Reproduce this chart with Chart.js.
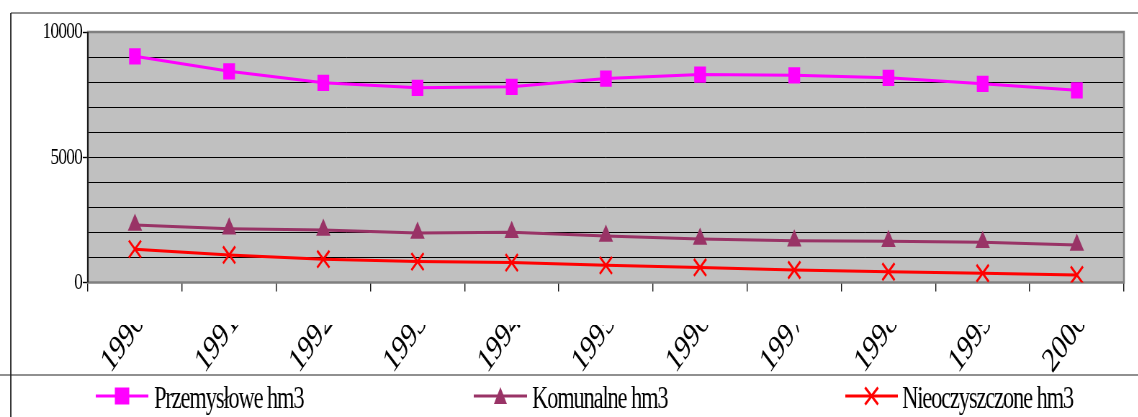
<!DOCTYPE html>
<html>
<head>
<meta charset="utf-8">
<script src="https://cdn.jsdelivr.net/npm/chart.js@4"></script>
<style>
  html, body { margin: 0; padding: 0; background: #fff; overflow: hidden; }
  /* the chart is laid out wide and then squeezed horizontally */
  #wrap { width: 1581px; height: 417px; transform: scaleX(0.72); transform-origin: 0 0; }
  canvas { display: block; }
</style>
</head>
<body>
<div id="wrap"><canvas id="chart" width="1581" height="417"></canvas></div>
<script>
// Years on the category axis
const years = ['1990', '1991', '1992', '1993', '1994', '1995', '1996', '1997', '1998', '1999', '2000'];

// Wastewater volumes, hm3
const przemyslowe = [9030, 8430, 7970, 7770, 7810, 8140, 8300, 8270, 8170, 7930, 7670];
const komunalne = [2300, 2150, 2100, 1980, 2010, 1860, 1740, 1670, 1650, 1610, 1500];
const nieoczyszczone = [1330, 1100, 930, 835, 795, 685, 600, 500, 430, 370, 300];

const seriesNames = ['Przemysłowe hm3', 'Komunalne hm3', 'Nieoczyszczone hm3'];

// Value axis: a gridline every 1000, labels only on these
const yGridValues = [0, 1000, 2000, 3000, 4000, 5000, 6000, 7000, 8000, 9000, 10000];
const labelledTicks = [0, 5000, 10000];

const SERIF = '"Liberation Serif", "Times New Roman", serif';
const LABEL_CLIP_TOP = 325;     // rotated year labels are cut off above this line
const LEGEND_TOP = 375;         // separator between plot and legend

// Legend slots: line start, line end, text start
const legendSlots = [
  { x0: 133, x1: 206, tx: 214 },
  { x0: 658, x1: 732, tx: 739 },
  { x0: 1174, x1: 1247, tx: 1253 }
];

function drawLegendMarker(ctx, style, cx, cy, color) {
  ctx.save();
  ctx.fillStyle = color;
  ctx.strokeStyle = color;
  if (style === 'rect') {
    ctx.fillRect(cx - 10, cy - 8.5, 20, 17);
  } else if (style === 'triangle') {
    ctx.beginPath();
    ctx.moveTo(cx, cy - 9);
    ctx.lineTo(cx + 9, cy + 8);
    ctx.lineTo(cx - 9, cy + 8);
    ctx.closePath();
    ctx.fill();
  } else {
    ctx.lineWidth = 3;
    ctx.beginPath();
    ctx.moveTo(cx - 9, cy - 8.5); ctx.lineTo(cx + 9, cy + 8.5);
    ctx.moveTo(cx + 9, cy - 8.5); ctx.lineTo(cx - 9, cy + 8.5);
    ctx.stroke();
  }
  ctx.restore();
}

const frameAndLegend = {
  id: 'frameAndLegend',
  beforeDraw(chart) {
    const { ctx, chartArea: a } = chart;
    ctx.save();
    ctx.fillStyle = '#c0c0c0';
    ctx.fillRect(a.left, a.top, a.right - a.left, a.bottom - a.top);
    ctx.restore();
  },
  beforeDatasetsDraw(chart) {
    const { ctx, chartArea: a } = chart;
    ctx.save();
    ctx.strokeStyle = '#808080';
    ctx.lineWidth = 2.5;
    ctx.strokeRect(a.left, a.top, a.right - a.left, a.bottom - a.top);
    ctx.strokeStyle = '#000';
    ctx.lineWidth = 1.6;
    ctx.beginPath();
    ctx.moveTo(a.left, a.top); ctx.lineTo(a.left, a.bottom);
    ctx.stroke();
    ctx.restore();
  },
  afterDraw(chart) {
    const { ctx, width, height } = chart;
    ctx.save();
    // outer frame and separator
    ctx.strokeStyle = '#222';
    ctx.lineWidth = 1.2;
    ctx.beginPath();
    ctx.moveTo(15, 13); ctx.lineTo(width, 13);
    ctx.moveTo(0, LEGEND_TOP); ctx.lineTo(width, LEGEND_TOP);
    ctx.stroke();
    ctx.lineWidth = 1.8;
    ctx.beginPath();
    ctx.moveTo(15, 13); ctx.lineTo(15, height);
    ctx.stroke();

    // legend
    const cy = 396;
    chart.data.datasets.forEach((ds, i) => {
      const s = legendSlots[i];
      ctx.strokeStyle = ds.borderColor;
      ctx.lineWidth = 3;
      ctx.beginPath();
      ctx.moveTo(s.x0, cy); ctx.lineTo(s.x1, cy);
      ctx.stroke();
      drawLegendMarker(ctx, ds.pointStyle, (s.x0 + s.x1) / 2, cy, ds.borderColor);
      ctx.fillStyle = '#000';
      ctx.font = '31px ' + SERIF;
      if ('letterSpacing' in ctx) ctx.letterSpacing = '-1.5px';
      ctx.textBaseline = 'alphabetic';
      ctx.textAlign = 'left';
      ctx.fillText(ds.label, s.tx, 408);
    });
    ctx.restore();
  }
};

// Tight letter spacing on tick labels; year labels clipped along a horizontal line
const tickLabelStyle = {
  id: 'tickLabelStyle',
  afterLayout(chart) {
    [['x', '0px', true], ['y', '-1px', false]].forEach(([id, spacing, clip]) => {
      const s = chart.scales[id];
      if (!s || s._styled) return;
      const orig = s.drawLabels;
      s.drawLabels = function (area) {
        const ctx = chart.ctx;
        ctx.save();
        if ('letterSpacing' in ctx) ctx.letterSpacing = spacing;
        if (clip) {
          ctx.beginPath();
          ctx.rect(0, LABEL_CLIP_TOP, chart.width, chart.height - LABEL_CLIP_TOP);
          ctx.clip();
        }
        orig.call(this, area);
        ctx.restore();
      };
      s._styled = true;
    });
  }
};

new Chart(document.getElementById('chart'), {
  type: 'line',
  data: {
    labels: years,
    datasets: [
      {
        label: seriesNames[0], data: przemyslowe,
        borderColor: '#ff00ff', backgroundColor: '#ff00ff', borderWidth: 3,
        pointStyle: 'rect', pointRadius: 11.5, pointBorderWidth: 0,
        pointBackgroundColor: '#ff00ff', tension: 0
      },
      {
        label: seriesNames[1], data: komunalne,
        borderColor: '#993366', backgroundColor: '#993366', borderWidth: 3,
        pointStyle: 'triangle', pointRadius: 11.5, pointBorderWidth: 0,
        pointBackgroundColor: '#993366', tension: 0
      },
      {
        label: seriesNames[2], data: nieoczyszczone,
        borderColor: '#ff0000', backgroundColor: '#ff0000', borderWidth: 3,
        pointStyle: 'crossRot', pointRadius: 12, pointBorderWidth: 2.6,
        pointBorderColor: '#ff0000', tension: 0
      }
    ]
  },
  options: {
    responsive: false,
    animation: false,
    devicePixelRatio: 1,
    layout: { padding: { top: 32, right: 20, bottom: 417 - LEGEND_TOP, left: 0 } },
    plugins: { legend: { display: false }, tooltip: { enabled: false } },
    scales: {
      x: {
        type: 'category',
        offset: true,
        grid: {
          offset: true, drawOnChartArea: false, tickLength: 9,
          color: '#111', lineWidth: 1.4
        },
        border: { display: false },
        ticks: {
          autoSkip: false, minRotation: 46, maxRotation: 46,
          padding: 11, labelOffset: 8, color: '#000',
          font: { family: SERIF, size: 35 }
        },
        afterFit(scale) { scale.height = LEGEND_TOP - 282.5; }
      },
      y: {
        min: 0, max: 10000,
        afterBuildTicks(scale) { scale.ticks = yGridValues.map((v) => ({ value: v })); },
        grid: {
          color: '#000', lineWidth: 1, tickLength: 7,
          tickColor: (c) => labelledTicks.includes(c.tick && c.tick.value) ? '#000' : 'rgba(0,0,0,0)',
          tickWidth: 1.4
        },
        border: { display: false },
        ticks: {
          autoSkip: false, padding: 1, color: '#000',
          font: { family: SERIF, size: 24 },
          callback: (v) => labelledTicks.includes(v) ? String(v) : ''
        },
        afterFit(scale) { scale.width = 122; }
      }
    }
  },
  plugins: [frameAndLegend, tickLabelStyle]
});
</script>
</body>
</html>
